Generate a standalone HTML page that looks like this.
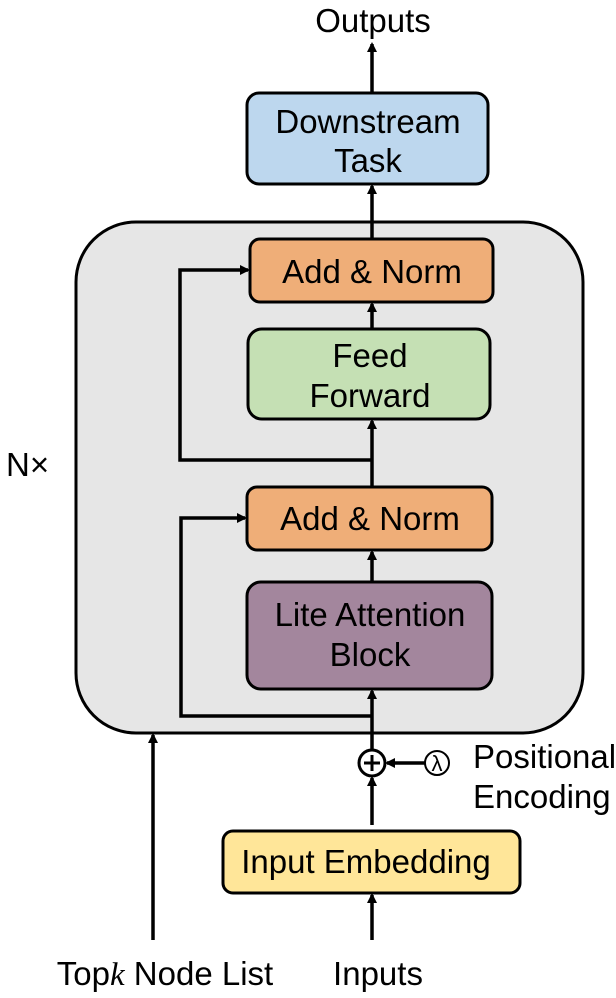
<!DOCTYPE html>
<html><head><style>body{margin:0;background:#fff}svg{display:block}text{font-family:"Liberation Sans",sans-serif;fill:#000}</style></head>
<body>
<svg width="616" height="998" viewBox="0 0 616 998" xmlns="http://www.w3.org/2000/svg">
<defs><marker id="a" markerWidth="10" markerHeight="10" refX="8" refY="5" orient="auto" markerUnits="userSpaceOnUse"><path d="M0,0 L10,5 L0,10 z" fill="#000"/></marker></defs>
<rect x="76" y="222" width="507" height="511" rx="60" fill="#e6e6e6" stroke="#000" stroke-width="3"/>
<g stroke="#000" stroke-width="3">
<rect x="247" y="93" width="241" height="91" rx="12" fill="#bdd7ee"/>
<rect x="250" y="239" width="243" height="63" rx="10" fill="#efae78"/>
<rect x="248" y="329" width="242" height="90" rx="14" fill="#c5e0b4"/>
<rect x="247" y="487" width="245" height="63" rx="10" fill="#efae78"/>
<rect x="247" y="582" width="245" height="107" rx="14" fill="#a3869d"/>
<rect x="223" y="831" width="297" height="62" rx="10" fill="#ffe699"/>
</g>
<g stroke="#000" stroke-width="3.5" fill="none">
<line x1="372" y1="93" x2="372" y2="44" marker-end="url(#a)"/>
<line x1="372" y1="239" x2="372" y2="186" marker-end="url(#a)"/>
<line x1="372" y1="329" x2="372" y2="304" marker-end="url(#a)"/>
<line x1="372" y1="487" x2="372" y2="421" marker-end="url(#a)"/>
<line x1="372" y1="582" x2="372" y2="552" marker-end="url(#a)"/>
<line x1="372" y1="750" x2="372" y2="691" marker-end="url(#a)"/>
<polyline points="372,460 180,460 180,270 248,270" marker-end="url(#a)"/>
<polyline points="372,716 181,716 181,518 245,518" marker-end="url(#a)"/>
<line x1="372" y1="825" x2="372" y2="778" marker-end="url(#a)"/>
<line x1="372" y1="940" x2="372" y2="895" marker-end="url(#a)"/>
<line x1="153" y1="940" x2="153" y2="735" marker-end="url(#a)"/>
<line x1="425" y1="763" x2="387" y2="763" marker-end="url(#a)"/>
<circle cx="372" cy="763" r="13" fill="#fff" stroke-width="3"/>
<circle cx="437" cy="763" r="12" fill="#fff" stroke-width="2"/>
<line x1="364" y1="763" x2="380" y2="763" stroke-width="3"/><line x1="372" y1="755" x2="372" y2="771" stroke-width="3"/>
</g>
<text x="437" y="771" font-size="22" text-anchor="middle" font-family="Liberation Serif,serif">λ</text>
<g font-size="33" text-anchor="middle">
<text x="373" y="32">Outputs</text>
<text x="368" y="133">Downstream</text>
<text x="368" y="172">Task</text>
<text x="372" y="283">Add &amp; Norm</text>
<text x="370" y="367">Feed</text>
<text x="370" y="407">Forward</text>
<text x="370" y="530">Add &amp; Norm</text>
<text x="370" y="626">Lite Attention</text>
<text x="370" y="666">Block</text>
<text x="366" y="873">Input Embedding</text>
<text x="378" y="985">Inputs</text>
<text x="165" y="985">Top<tspan font-family="Liberation Serif,serif" font-style="italic">k</tspan> Node List</text>
</g>
<g font-size="33">
<text x="6" y="476">N×</text>
<text x="473" y="768">Positional</text>
<text x="473" y="808">Encoding</text>
</g>
</svg>
</body></html>
